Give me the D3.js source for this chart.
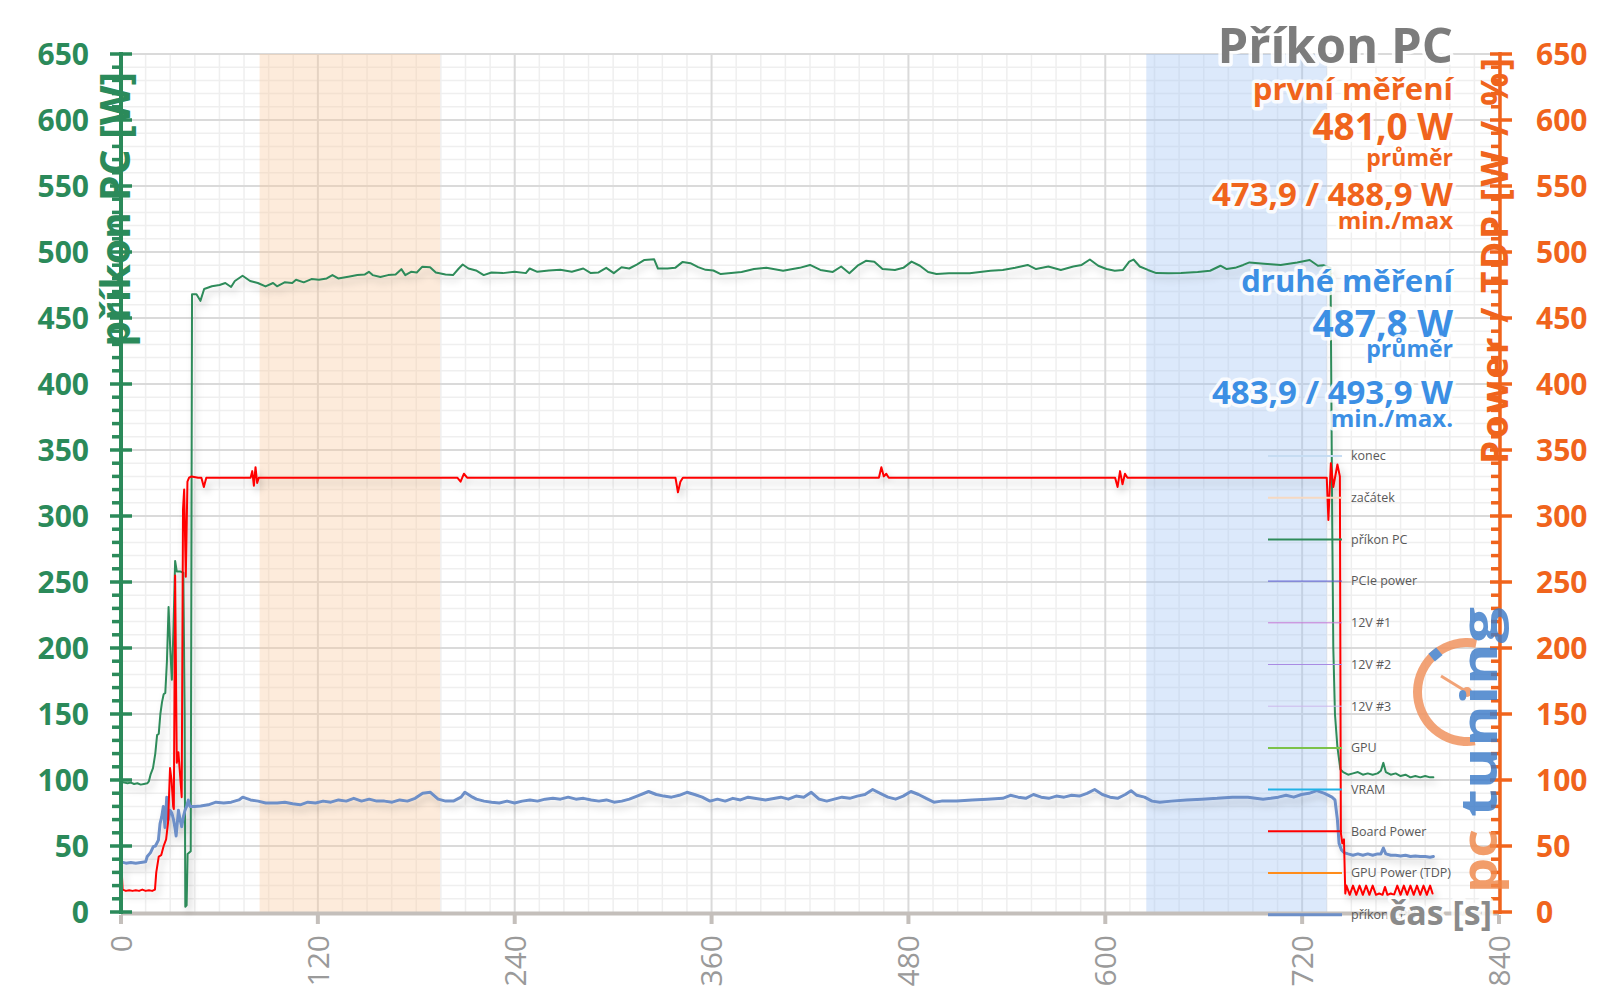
<!DOCTYPE html>
<html><head><meta charset="utf-8">
<script src="https://cdn.jsdelivr.net/npm/d3@7"></script>
<style>
html,body{margin:0;padding:0;background:#fff;}
svg{display:block;font-family:"Open Sans",sans-serif;}
.halo{paint-order:stroke;stroke:#fff;stroke-width:7px;stroke-linejoin:round;stroke-opacity:0.85;}
</style></head><body>
<svg id="chart" width="1600" height="1008"></svg>
<script>
// ---------------- DATA ----------------
const timeTicks = [0, 120, 240, 360, 480, 600, 720, 840];
const powerTicks = [0, 50, 100, 150, 200, 250, 300, 350, 400, 450, 500, 550, 600, 650];
const bandStart = [84.5, 194.5];   // "začátek" – první měření
const bandEnd = [625, 735];        // "konec" – druhé měření

// příkon PC [W]  (time s, value W)
const pcPower = [
[0,98.5],[2,98],[4,97.5],[6,98],[8,97],[10,97.5],[12,96.5],[14,97],[16,97.5],[17,99],[18,104],[19.5,109],[20.9,120],[22,134],[23,135],[24,150],[25,159],[26,165],[27,166],[28,190],[29,231],[30,200],[31,176],[32,215],[33,266],[34,258],[36,258],[38,257],[38.8,150],[39.2,4],[40,5],[40.6,44],[42.5,46],[43.3,468],
[46,468],[48.4,463],[50.7,472],[55.4,474],[60.1,475],[63.6,476.5],[67.1,473.5],[69.4,478],[74.1,482],[78.7,478],[83.4,476.5],[88.1,473.9],[92.7,476.5],[95.1,474],[99.7,477],[104.4,476.5],[106.7,479],[111.4,477],[116.1,479.5],[120.7,479],[125.4,480],[128.9,482.5],[132.4,480],[139.4,481.5],[144.1,482.5],[148.7,483],[151.1,485],[153.4,482.5],[158.1,481],[162.8,482.5],[167.4,483],[170.9,487],[173.3,482.5],[176.8,485],[180.3,484.5],[183.7,488.9],[188.4,488.5],[191.9,484.5],[197.8,483],[202.4,482.5],[205.9,487.5],[208.3,490.5],[211.8,487.5],[216.4,486],[221.1,482.5],[225.8,484.5],[232.8,484],[239.8,485],[246.8,484],[249.1,487.5],[253.8,485],[260.8,486],[267.8,486.5],[274.8,485],[281.8,487.5],[286.4,484],[291.1,484.5],[295.8,488],[300.4,484],[305.1,488.5],[309.8,487.5],[314.4,490.5],[319.1,494],[325,494.5],[327.3,487.5],[333.1,487.5],[337.8,488],[342.4,492.5],[347.1,491.5],[351.8,488.5],[356.4,486.5],[361.1,486],
[365.6,483.3],[378.3,484.9],[385.9,487.1],[393.4,488],[403.6,485.8],[413.7,488],[420,490.2],[426.3,486.4],[433.9,484.9],[439,489],[444,483.9],[449,489.6],[454.1,493.3],[459.2,492.7],[464.2,487.1],[471.8,486.4],[476.9,488],[481.9,492.7],[487,489.6],[492,484.9],[497.1,483.3],[504.7,483.9],[517.3,483.9],[530,485.8],[537.5,486.4],[545.1,488],[552.7,490.2],[557.8,487.1],[565.3,489],[572.9,486.4],[580.5,489],[585.6,490.2],[590.6,494.3],[595.7,489.6],[600.7,487.1],[605.8,485.8],[610.8,486.4],[614.6,492.7],[617.2,494.3],[621,489],[626,486.4],[631.1,484],[638.6,483.9],[646.2,484],[656.3,484.9],[663.9,485.8],[670.2,489.6],[674,487.1],[679.1,488],[684.1,490.2],[687.9,492.1],[696.8,491.1],[706.9,490.2],[717,492.1],[724.6,493.9],[729.6,489.6],[733,490],[737.3,488],
[738.3,300],[739,200],[740,150],[741.5,125],[743.3,108],[745,106],[748,104],[751,105],[754,106],[757,104],[760,105],[763,104],[766,105],[768,107],[769.5,113],[771,106],[774,104],[777,105],[780,103],[783,104],[786,102],[789,103],[792,102],[795,103],[798,102],[800,102]
];

// příkon CPU [W]
const cpuPower = [
[0,38],[3,37],[6,37.5],[9,37],[12,37.5],[15,38],[16,42],[18,45],[19.7,49.5],[21,50],[22.8,54.5],[23.8,67],[24.8,72],[25.8,80],[26.8,64],[27.9,87],[28.9,70],[29.9,77],[31,75],[32,70],[33,63],[33.6,57.6],[35,77],[36,70],[37,64.6],[38,72],[39,77],[40,80],[41,84.8],[42,80],
[44.9,80],[48.6,80.3],[53.2,81.2],[57.9,83.2],[62.6,82.6],[67.2,83.2],[71.9,84.9],[74.2,87],[78.9,84.9],[83.6,84],[88.2,82.6],[95.2,82.6],[99.9,83.2],[104.6,82],[109.2,81.2],[113.9,83.2],[118.6,82.6],[123.2,84],[127.9,83.2],[132.6,84.9],[137.3,84],[141.9,86.1],[146.6,84],[151.3,85.5],[155.9,84],[160.6,84],[165.3,83.2],[169.9,84.9],[174.6,84],[179.3,86.1],[183.9,89.9],[188.6,90.7],[193.3,85.5],[197.9,84],[202.6,84],[207.3,87],[209.6,90.7],[214.3,87],[216.6,85.5],[221.3,84],[225.9,83.2],[230.6,82.6],[235.3,84],[239.9,82.6],[244.6,84],[249.3,84.9],[253.9,84],[258.6,85.5],[263.3,86.1],[267.9,85.5],[272.6,87],[277.3,85.5],[281.9,86.1],[286.6,84.9],[291.3,84],[295.9,84.9],[300.6,83.2],[305.3,84],[309.9,85.5],[314.6,87.8],[321.6,91.3],[326.3,89],[330.9,87.8],[335.6,87],[340.3,88.4],[345,90.7],[349.6,89],[354.3,87],[359,84],[363.6,85.5],[368.3,84],[373,86.1],[377.6,84.9],[382.3,87],
[392.8,84.9],[402.2,87],[406.8,85.5],[411.5,87.8],[416.2,87],[420.8,90.7],[425.5,85.5],[430.2,84],[434.8,85.5],[439.5,87],[444.2,86.1],[448.8,87.8],[453.5,89],[458.2,92.8],[462.8,89.9],[467.5,87],[472.2,85.5],[476.8,87.8],[481.5,91.3],[486.2,89],[490.8,86.1],[495.5,83.2],[500.2,84],[509.5,84],[518.9,84.9],[528.2,85.5],[537.5,86.1],[542.2,88.4],[546.9,87],[551.5,86.1],[556.2,89],[560.9,87],[565.5,86.1],[570.2,87.8],[574.9,87],[579.5,88.4],[584.2,87.8],[588.9,89.9],[593.5,92.8],[598.2,89],[602.9,87],[607.5,86.1],[612.2,89],[615.7,91.9],[619.2,88.4],[623.9,87],[628.5,84],[633.2,83.2],[640.2,84],[649.5,84.9],[658.9,85.5],[668.2,86.1],[677.5,87],[686.9,87],[696.2,85.5],[700.9,86.1],[705.5,87],[710.2,88.4],[714.9,87],[719.6,89],[724.2,89.9],[728.9,91.9],[733.6,89.9],[738.2,87],
[740,85],[741.5,70],[742.5,52],[744,47],[745.5,45],[748,44],[751,43],[754,44],[757,43],[760,44],[763,43],[766,44],[768,44],[769.5,48.5],[771,44],[774,43],[777,43],[780,42.5],[783,43],[786,42],[789,42.5],[792,42],[795,42],[798,41.5],[800,42]
];

// Board Power [W] (secondary axis)
const boardPower = [
[0,42],[1,17],[3,16],[5,16.5],[7,16],[9,16.5],[11,16],[13,17],[15,16],[17,16.5],[19,16],[20.7,17],[21.5,30],[23,42],[24.5,43],[26,50],[27.5,55],[28.7,68],[29.9,109],[30.8,100],[31.8,80],[32.2,78],[33,255],[34,113],[35,121],[36,104],[37,87],[37.8,305],[38.5,320],[39.5,254],[40.5,326],[41.5,329],[43,330],
[47,329],[49,329],[50.5,322],[52,329],[79,329],[80,334],[81,323],[82,337],[83,325],[84,329],[205,329],[207,326],[209,332],[211,329],[338,329],[339.5,318],[341,326],[342.5,329],[462,329],[463.5,337],[465,330],[466.5,332],[468,329],[606,329],[607.5,322],[609,334],[610.5,324],[612,332],[613.5,329],[735,329],
[736,297],[737.5,340],[739,322],[741.5,339],[743,330],[743.6,60],[744.5,52],[745.5,55],[746.3,14],
[747,20],[749,13],[751,20],[753,13],[755,20],[757,13],[759,20],[761,13],[763,20],[765,13],[767,14],[769,13],[770.5,19],[772,13],[774,14],[776,13],[778,20],[780,13],[782,20],[784,13],[786,20],[788,13],[790,20],[792,13],[794,20],[796,13],[798,20],[799.5,14]
];

const legendLabels = ["konec","začátek","příkon PC","PCIe power","12V #1","12V #2","12V #3","GPU","VRAM","Board Power","GPU Power (TDP)","příkon CPU"];
const legendColors = ["#c6dcf2","#f6d9c2","#2e8b5a","#5b5bd0","#c77ad6","#a98be3","#cdb8ec","#7cc24a","#22b2e6","#ff0000","#ff8c1a","#6d8fc8"];
const legendWidths = [2,2,2,1,1,1,1,2,2,2,2,3];

const firstTexts = ["první měření","481,0 W","průměr","473,9 / 488,9 W","min./max"];
const secondTexts = ["druhé měření","487,8 W","průměr","483,9 / 493,9 W","min./max."];

// ---------------- DRAW ----------------
const GREEN = "#2b8a5a", ORANGE = "#f0641c", BLUE_TXT = "#3c8fe4", GRAY = "#7c7c7c";
const svg = d3.select("#chart");
const x = d3.scaleLinear().domain([0, 840]).range([121, 1499]);
const y = d3.scaleLinear().domain([0, 650]).range([912, 54]);

const defs = svg.append("defs");
const f = defs.append("filter").attr("id","shadow").attr("x","-5%").attr("y","-5%").attr("width","110%").attr("height","110%");
f.append("feDropShadow").attr("dx",3).attr("dy",5).attr("stdDeviation",3.5).attr("flood-color","#000").attr("flood-opacity",0.2);

// minor grid
const g = svg.append("g");
g.selectAll(".mh").data(d3.range(0, 651, 10).filter(v => v % 50 !== 0)).join("line")
  .attr("x1", x(0)).attr("x2", x(840)).attr("y1", d => y(d)).attr("y2", d => y(d))
  .attr("stroke", "#efefef").attr("stroke-width", 1.5);
g.selectAll(".mv").data(d3.range(0, 841, 15).filter(v => v % 120 !== 0)).join("line")
  .attr("y1", y(0)).attr("y2", y(650)).attr("x1", d => x(d)).attr("x2", d => x(d))
  .attr("stroke", "#efefef").attr("stroke-width", 1.5);
// major grid
g.selectAll(".Mh").data(powerTicks.filter(v => v > 0)).join("line")
  .attr("x1", x(0)).attr("x2", x(840)).attr("y1", d => y(d)).attr("y2", d => y(d))
  .attr("stroke", "#dadada").attr("stroke-width", 2);
g.selectAll(".Mv").data(timeTicks.filter(v => v > 0)).join("line")
  .attr("y1", y(0)).attr("y2", y(650)).attr("x1", d => x(d)).attr("x2", d => x(d))
  .attr("stroke", "#dadada").attr("stroke-width", 2);

// bands
svg.append("rect").attr("x", x(bandStart[0])).attr("width", x(bandStart[1]) - x(bandStart[0]))
  .attr("y", y(650)).attr("height", y(0) - y(650)).attr("fill", "#f9c79b").attr("opacity", 0.36);
svg.append("rect").attr("x", x(bandEnd[0])).attr("width", x(bandEnd[1]) - x(bandEnd[0]))
  .attr("y", y(650)).attr("height", y(0) - y(650)).attr("fill", "#9dc3f5").attr("opacity", 0.36);

// x axis
svg.append("line").attr("x1", x(0)).attr("x2", x(840)).attr("y1", y(0) + 1.5).attr("y2", y(0) + 1.5)
  .attr("stroke", "#c4bfbb").attr("stroke-width", 4);
svg.selectAll(".xt").data(timeTicks).join("line")
  .attr("x1", d => x(d)).attr("x2", d => x(d)).attr("y1", y(0) + 3).attr("y2", y(0) + 12)
  .attr("stroke", "#c4bfbb").attr("stroke-width", 4);
svg.selectAll(".xl").data(timeTicks).join("text")
  .attr("transform", d => `translate(${x(d)},${y(0) + 23}) rotate(-90)`)
  .attr("text-anchor", "end").attr("dy", "0.36em")
  .attr("font-size", 30).attr("fill", "#9a9a9a").text(d => d);

// series
const line = d3.line().x(d => x(d[0])).y(d => y(d[1]));
const series = svg.append("g").attr("filter", "url(#shadow)").attr("fill", "none")
  .attr("stroke-linejoin", "round").attr("stroke-linecap", "round");
series.append("path").datum(pcPower).attr("d", line).attr("stroke", "#2e8b5a").attr("stroke-width", 2);
series.append("path").datum(cpuPower).attr("d", line).attr("stroke", "#6d8fc8").attr("stroke-width", 3);
series.append("path").datum(boardPower).attr("d", line).attr("stroke", "#ff0000").attr("stroke-width", 2);

// left axis
const la = svg.append("g");
la.append("line").attr("x1", 121).attr("x2", 121).attr("y1", y(650) - 2).attr("y2", y(0) + 2)
  .attr("stroke", GREEN).attr("stroke-width", 4);
la.selectAll(".lmin").data(d3.range(0, 651, 10).filter(v => v % 50 !== 0)).join("line")
  .attr("x1", 112).attr("x2", 121).attr("y1", d => y(d)).attr("y2", d => y(d))
  .attr("stroke", GREEN).attr("stroke-width", 3.5);
la.selectAll(".lmaj").data(powerTicks).join("line")
  .attr("x1", 110).attr("x2", 132).attr("y1", d => y(d)).attr("y2", d => y(d))
  .attr("stroke", GREEN).attr("stroke-width", 3.5);
la.selectAll(".ll").data(powerTicks).join("text")
  .attr("x", 89).attr("y", d => y(d)).attr("dy", "0.36em").attr("text-anchor", "end")
  .attr("font-size", 30).attr("font-weight", 700).attr("fill", GREEN).text(d => d);

// right axis
const ra = svg.append("g");
ra.append("line").attr("x1", 1500).attr("x2", 1500).attr("y1", y(650) - 2).attr("y2", y(0) + 2)
  .attr("stroke", ORANGE).attr("stroke-width", 3.5);
ra.selectAll(".rmin").data(d3.range(0, 651, 10).filter(v => v % 50 !== 0)).join("line")
  .attr("x1", 1491).attr("x2", 1500).attr("y1", d => y(d)).attr("y2", d => y(d))
  .attr("stroke", ORANGE).attr("stroke-width", 3.5);
ra.selectAll(".rmaj").data(powerTicks).join("line")
  .attr("x1", 1490).attr("x2", 1512).attr("y1", d => y(d)).attr("y2", d => y(d))
  .attr("stroke", ORANGE).attr("stroke-width", 3.5);
ra.selectAll(".rl").data(powerTicks).join("text")
  .attr("x", 1536).attr("y", d => y(d)).attr("dy", "0.36em").attr("text-anchor", "start")
  .attr("font-size", 30).attr("font-weight", 700).attr("fill", ORANGE).text(d => d);

// axis titles
svg.append("text").attr("transform", "translate(130,72) rotate(-90)")
  .attr("text-anchor", "end").attr("font-size", 41).attr("font-weight", 700).attr("fill", GREEN)
  .text("příkon PC [W]");
svg.append("text").attr("transform", "translate(1508,464) rotate(-90)")
  .attr("text-anchor", "start").attr("font-size", 37).attr("font-weight", 700).attr("fill", ORANGE)
  .attr("textLength", 406).attr("lengthAdjust", "spacing")
  .text("Power / TDP [W / %]");

// legend
const lg = svg.append("g");
legendLabels.forEach((lab, i) => {
  const ly = 456 + i * 41.7;
  lg.append("line").attr("x1", 1268).attr("x2", 1342).attr("y1", ly).attr("y2", ly)
    .attr("stroke", legendColors[i]).attr("stroke-width", legendWidths[i]);
  lg.append("text").attr("x", 1351).attr("y", ly).attr("dy", "0.35em")
    .attr("font-size", 12.5).attr("fill", "#595959").text(lab);
});

// annotations
svg.append("text").attr("class", "halo").attr("x", 1453).attr("y", 63).attr("text-anchor", "end")
  .attr("font-size", 49).attr("font-weight", 700).attr("fill", GRAY).text("Příkon PC");
const annSizes = [31, 37, 23, 33, 24];
const firstY = [100, 140, 166, 206, 229];
const secondY = [292, 337, 357, 404, 427];
firstTexts.forEach((t, i) => {
  svg.append("text").attr("class", "halo").attr("x", 1453).attr("y", firstY[i]).attr("text-anchor", "end")
    .attr("font-size", annSizes[i]).attr("font-weight", 700).attr("fill", ORANGE).text(t);
});
secondTexts.forEach((t, i) => {
  svg.append("text").attr("class", "halo").attr("x", 1453).attr("y", secondY[i]).attr("text-anchor", "end")
    .attr("font-size", annSizes[i]).attr("font-weight", 700).attr("fill", BLUE_TXT).text(t);
});

// logo watermark
const logo = svg.append("g").attr("opacity", 0.82);
const arc = d3.arc().innerRadius(45).outerRadius(54).startAngle(Math.PI * 0.06).endAngle(-Math.PI * 1.05);
logo.append("path").attr("d", arc()).attr("transform", "translate(1467,692)").attr("fill", "#f0905a");
logo.append("rect").attr("x", -5).attr("y", -54).attr("width", 10).attr("height", 10)
  .attr("transform", "translate(1467,692) rotate(-40)").attr("fill", "#3d7cc9");
logo.append("line").attr("x1", 1467).attr("y1", 692).attr("x2", 1441).attr("y2", 676)
  .attr("stroke", "#f0905a").attr("stroke-width", 3);
logo.append("circle").attr("cx", 1467).attr("cy", 692).attr("r", 5).attr("fill", "#f0905a");
logo.append("text").attr("transform", "translate(1497,817) rotate(-90)").attr("text-anchor", "start")
  .attr("font-size", 50).attr("font-weight", 700).attr("fill", "#3d7cc9")
  .attr("textLength", 210).attr("lengthAdjust", "spacingAndGlyphs").text("tuning");
logo.append("text").attr("transform", "translate(1497,893) rotate(-90)").attr("text-anchor", "start")
  .attr("font-size", 50).attr("font-weight", 700).attr("fill", "#f0884a")
  .attr("textLength", 64).attr("lengthAdjust", "spacingAndGlyphs").text("pc");

// x axis title
svg.append("text").attr("class", "halo").attr("x", 1492).attr("y", 925).attr("text-anchor", "end")
  .attr("font-size", 34).attr("font-weight", 700).attr("fill", "#8a8a8a").text("čas [s]");
</script></body></html>
